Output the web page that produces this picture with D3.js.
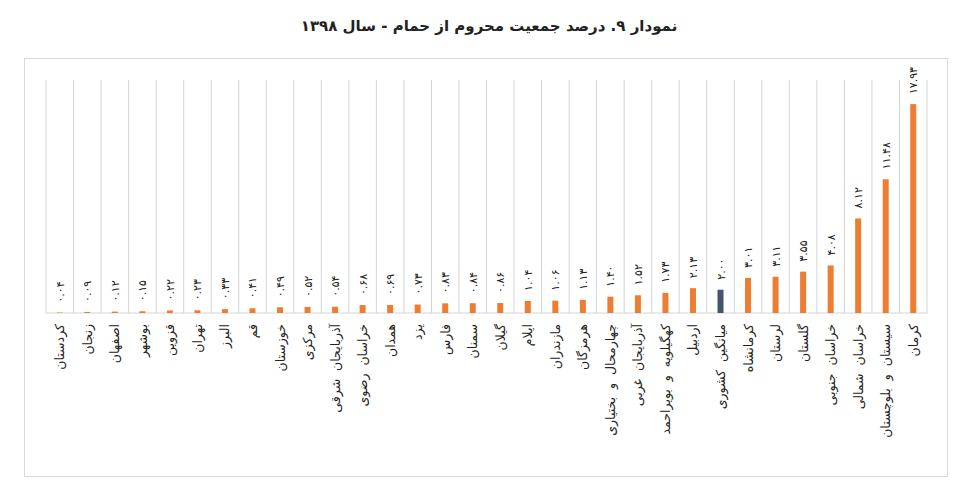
<!DOCTYPE html>
<html><head><meta charset="utf-8">
<script src="https://cdn.jsdelivr.net/npm/d3@7"></script>
<style>body{margin:0;background:#fff}svg{display:block}</style>
</head><body>
<script>
const title = "نمودار ۹. درصد جمعیت محروم از حمام - سال ۱۳۹۸";
const categories = ["کردستان","زنجان","اصفهان","بوشهر","قزوین","تهران","البرز","قم","خوزستان","مرکزی","آذربایجان شرقی","خراسان رضوی","همدان","یزد","فارس","سمنان","گیلان","ایلام","مازندران","هرمزگان","چهارمحال و بختیاری","آذربایجان غربی","کهگیلویه و بویراحمد","اردبیل","میانگین کشوری","کرمانشاه","لرستان","گلستان","خراسان جنوبی","خراسان شمالی","سیستان و بلوچستان","کرمان"];
const values = [0.04,0.09,0.12,0.15,0.22,0.23,0.33,0.41,0.49,0.52,0.54,0.68,0.69,0.73,0.83,0.84,0.86,1.04,1.06,1.13,1.40,1.52,1.73,2.13,2.00,3.01,3.11,3.55,4.08,8.12,11.48,17.93];
const highlight = ["میانگین کشوری"];

const W = 965, H = 489;
const svg = d3.select("body").append("svg").attr("width", W).attr("height", H);
const fa = s => s.replace(/\d/g, d => "۰۱۲۳۴۵۶۷۸۹"[+d]);

svg.append("text").attr("x", 489).attr("y", 31).attr("text-anchor", "middle")
  .attr("font-family", "DejaVu Sans").attr("font-weight", "bold").attr("font-size", 15)
  .attr("fill", "#222").text(title);

svg.append("rect").attr("x", 24.5).attr("y", 58.5).attr("width", 923).attr("height", 418)
  .attr("fill", "none").attr("stroke", "#d9d9d9");

const x = d3.scaleBand().domain(categories).range([46, 927]).paddingInner(0).paddingOuter(0);
const y = d3.scaleLinear().domain([0, 20]).range([313, 80]);

const g = svg.append("g");
const bounds = categories.map(c => x(c)).concat([x.range()[1]]);
g.selectAll("line.grid").data(bounds).join("line").attr("class", "grid")
  .attr("x1", d => d).attr("x2", d => d).attr("y1", y(20)).attr("y2", y(0))
  .attr("stroke", "#d4d4d4").attr("stroke-width", 1);
g.append("line").attr("x1", 46).attr("x2", 927).attr("y1", y(0)).attr("y2", y(0))
  .attr("stroke", "#d4d4d4");

const bw = 6;
const data = categories.map((c, i) => ({c, v: values[i]}));
g.selectAll("rect.bar").data(data).join("rect").attr("class", "bar")
  .attr("x", d => x(d.c) + x.bandwidth() / 2 - bw / 2).attr("width", bw)
  .attr("y", d => y(d.v)).attr("height", d => y(0) - y(d.v))
  .attr("fill", d => highlight.includes(d.c) ? "#44546A" : "#ED7D31");

g.selectAll("text.val").data(data).join("text").attr("class", "val")
  .attr("transform", d => `translate(${x(d.c) + x.bandwidth() / 2 + 4},${y(d.v) - 10}) rotate(-90)`)
  .attr("text-anchor", "start").attr("font-family", "DejaVu Sans").attr("font-size", 11)
  .attr("fill", "#222").text(d => fa(d.v.toFixed(2)));

g.selectAll("text.cat").data(data).join("text").attr("class", "cat")
  .attr("transform", d => `translate(${x(d.c) + x.bandwidth() / 2 + 4.5},${y(0) + 11}) rotate(-90)`)
  .attr("text-anchor", "end").attr("font-family", "DejaVu Sans").attr("font-size", 12.5)
  .attr("word-spacing", 4)
  .attr("fill", "#222").text(d => d.c);
</script>
</body></html>
